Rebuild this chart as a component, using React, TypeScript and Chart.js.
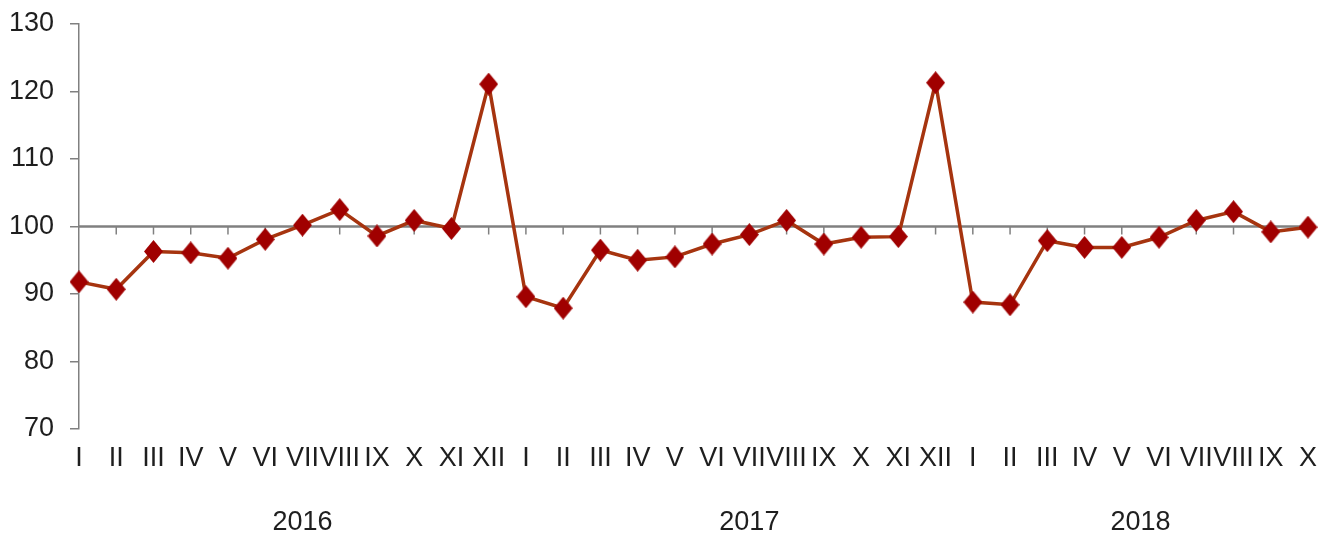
import React, {useEffect, useRef} from 'react';
import {Chart, registerables} from 'chart.js';

Chart.register(...registerables);

// month labels per year, roman numerals as in the source
const months2016 = ['I', 'II', 'III', 'IV', 'V', 'VI', 'VII', 'VIII', 'IX', 'X', 'XI', 'XII'];
const months2017 = ['I', 'II', 'III', 'IV', 'V', 'VI', 'VII', 'VIII', 'IX', 'X', 'XI', 'XII'];
const months2018 = ['I', 'II', 'III', 'IV', 'V', 'VI', 'VII', 'VIII', 'IX', 'X'];

const values2016 = [91.8, 90.7, 96.3, 96.1, 95.3, 98.1, 100.2, 102.5, 98.6, 100.9, 99.7, 121.1];
const values2017 = [89.6, 87.9, 96.5, 95.0, 95.5, 97.4, 98.8, 100.9, 97.4, 98.4, 98.5, 121.3];
const values2018 = [88.8, 88.4, 97.9, 96.9, 96.9, 98.4, 100.9, 102.2, 99.2, 99.9];

const years = ['2016', '2017', '2018'];
const yMin = 70;
const yMax = 130;
const yStep = 10;
const baseLine = 100;

const FONT = '"Liberation Sans", Arial, sans-serif';
const TEXT = '#1e1e1e';
const AXIS = '#808080';

const makeDiamond = () => {
    const c = document.createElement('canvas');
    c.width = 19;
    c.height = 23;
    const ctx = c.getContext('2d');
    if (ctx) {
        ctx.fillStyle = '#a00000';
        ctx.beginPath();
        ctx.moveTo(9.5, 0);
        ctx.lineTo(19, 11.5);
        ctx.lineTo(9.5, 23);
        ctx.lineTo(0, 11.5);
        ctx.closePath();
        ctx.fill();
    }
    return c;
};

const App: React.FC = () => {
    const chartRef = useRef<HTMLCanvasElement | null>(null);
    const chartInstanceRef = useRef<Chart | null>(null);

    useEffect(() => {
        if (!chartRef.current) return;
        const ctx = chartRef.current.getContext('2d');
        if (!ctx) return;

        const labels = [...months2016, ...months2017, ...months2018];
        const data = [...values2016, ...values2017, ...values2018];
        const groups = [months2016.length, months2017.length, months2018.length];

        // horizontal 100 line with small ticks hanging below it, plus year labels
        const baseLinePlugin = {
            id: 'baseLine',
            beforeDatasetsDraw(chart: any) {
                const {ctx, chartArea, scales} = chart;
                const y = scales.y.getPixelForValue(baseLine);
                ctx.save();
                ctx.strokeStyle = AXIS;
                ctx.lineWidth = 2.5;
                ctx.beginPath();
                ctx.moveTo(chartArea.left, y);
                ctx.lineTo(chartArea.right, y);
                ctx.stroke();
                ctx.lineWidth = 1.5;
                for (let i = 1; i < labels.length; i++) {
                    const x = scales.x.getPixelForValue(i);
                    ctx.beginPath();
                    ctx.moveTo(x, y);
                    ctx.lineTo(x, y + 8);
                    ctx.stroke();
                }
                ctx.restore();
            },
            afterDraw(chart: any) {
                const {ctx, scales, chartArea} = chart;
                ctx.save();
                ctx.fillStyle = TEXT;
                ctx.font = `27px ${FONT}`;
                ctx.textAlign = 'center';
                ctx.textBaseline = 'middle';
                let start = 0;
                years.forEach((yr, i) => {
                    const end = Math.min(start + groups[i], labels.length - 1);
                    const x = scales.x.getPixelForValue((start + end) / 2);
                    ctx.fillText(yr, x, chartArea.bottom + 94);
                    start += groups[i];
                });
                ctx.restore();
            }
        };

        chartInstanceRef.current = new Chart(ctx, {
            type: 'line',
            data: {
                labels,
                datasets: [
                    {
                        data,
                        borderColor: '#a6340f',
                        borderWidth: 3.5,
                        pointStyle: makeDiamond() as any,
                        pointRadius: 10,
                        clip: false as any,
                        tension: 0
                    }
                ]
            },
            options: {
                animation: false,
                responsive: false,
                layout: {padding: {top: 24, right: 16, left: 0, bottom: 0}},
                plugins: {
                    legend: {display: false},
                    tooltip: {enabled: false}
                },
                scales: {
                    x: {
                        type: 'category',
                        offset: false,
                        grid: {display: false},
                        border: {display: false},
                        ticks: {
                            autoSkip: false,
                            maxRotation: 0,
                            padding: 5,
                            color: TEXT,
                            font: {family: FONT, size: 27}
                        },
                        afterFit: (s: any) => {
                            s.height = 109;
                        }
                    },
                    y: {
                        min: yMin,
                        max: yMax,
                        grid: {
                            display: true,
                            drawOnChartArea: false,
                            drawTicks: true,
                            tickLength: 9,
                            color: AXIS,
                            lineWidth: 1.5
                        },
                        border: {display: true, color: AXIS, width: 1.5},
                        ticks: {
                            stepSize: yStep,
                            padding: 16,
                            color: TEXT,
                            font: {family: FONT, size: 27}
                        },
                        afterFit: (s: any) => {
                            s.width = 79;
                            s.paddingTop = 0;
                            s.paddingBottom = 0;
                        }
                    }
                }
            },
            plugins: [baseLinePlugin]
        });

        return () => {
            if (chartInstanceRef.current) {
                chartInstanceRef.current.destroy();
                chartInstanceRef.current = null;
            }
        };
    }, []);

    return (
        <div style={{position: 'fixed', left: 0, top: 0, width: 1324, height: 538, background: '#fff'}}>
            <canvas ref={chartRef} width="1324" height="538"></canvas>
        </div>
    );
};

export default App;
